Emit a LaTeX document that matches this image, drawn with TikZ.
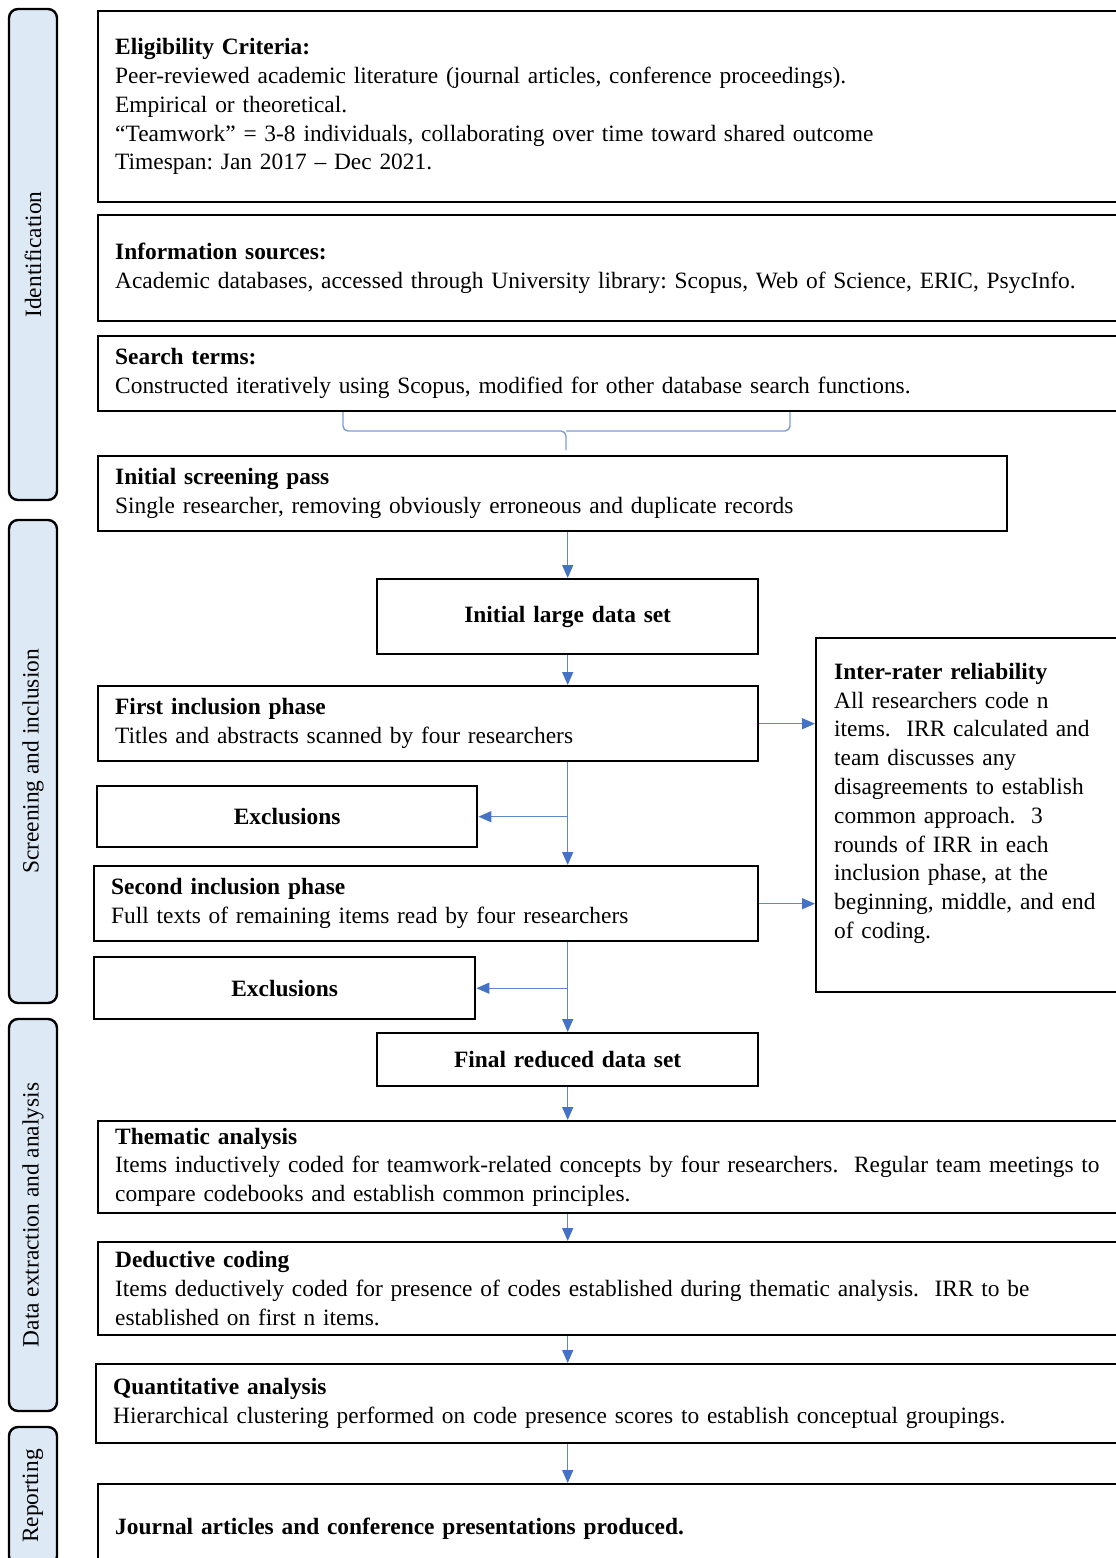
\documentclass[tikz,border=0pt]{standalone}
\usepackage{fontspec}
\setmainfont{Liberation Serif}
\frenchspacing
\usetikzlibrary{
	arrows.meta
}
\definecolor{flowblue}{RGB}{68,114,196}
\definecolor{phasefill}{RGB}{222,233,246}
\tikzset{
	box/.style={
		draw,
		line width=2.4pt,
		anchor=north west,
		inner xsep=17pt,
		align=left,
		font=\fontsize{23.4}{28.8}\selectfont
	},
	centrebox/.style={
		box,
		align=center,
		font=\fontsize{23.4}{28.8}\selectfont\bfseries
	},
	phase/.style={
		draw,
		line width=2.4pt,
		fill=phasefill,
		rounded corners=9pt,
		rotate=90,
		minimum height=48pt,
		font=\fontsize{23.4}{28.8}\selectfont
	},
	flow/.style={
		flowblue!85,
		line width=1.4pt,
		-{Triangle[length=13pt,width=11pt,flowblue]}
	},
	search brace/.style={
		flowblue!70,
		line width=1.4pt,
		rounded corners=5pt
	}
}

\begin{document}
\begin{tikzpicture}[x=1pt, y=-1pt]
	\useasboundingbox (0,0) rectangle (1116,1558);
	%%%%%%%% phases
	\node[phase, minimum width=491pt] (ident) at (33,254.5) {Identification};
	\node[phase, minimum width=483pt] (screening) at (33,761.5) {Screening and inclusion};
	\node[phase, minimum width=392pt] (extraction) at (33,1215) {Data extraction and analysis};
	\node[phase, minimum width=138pt] (reporting) at (33,1496) {Reporting};
	%%%%%%%% identification
	\node[box, text width=999pt, minimum height=191pt] (elig) at (97,10) {\textbf{Eligibility Criteria:}\\
		Peer-reviewed academic literature (journal articles, conference proceedings).\\
		Empirical or theoretical.\\
		“Teamwork” = 3-8 individuals, collaborating over time toward shared outcome\\
		Timespan: Jan 2017 – Dec 2021.};
	\node[box, text width=999pt, minimum height=106pt] (sources) at (97,214) {\textbf{Information sources:}\\
		Academic databases, accessed through University library: Scopus, Web of Science, ERIC, PsycInfo.};
	\node[box, text width=999pt, minimum height=75pt] (terms) at (97,335) {\textbf{Search terms:}\\
		Constructed iteratively using Scopus, modified for other database search functions.};
	\coordinate (bracetip) at (566,450);
	\draw[search brace] (343,412) |- (bracetip |- 0,431) -- (bracetip);
	\draw[search brace] (790,412) |- (bracetip |- 0,431);
	%%%%%%%% screening
	\node[box, text width=875pt, minimum height=75pt] (screen) at (97,455) {\textbf{Initial screening pass}\\
		Single researcher, removing obviously erroneous and duplicate records};
	\node[centrebox, text width=347pt, minimum height=75pt] (large) at (376,578) {Initial large data set};
	\node[box, text width=626pt, minimum height=75pt] (first) at (97,685) {\textbf{First inclusion phase}\\
		Titles and abstracts scanned by four researchers};
	\node[box, inner xsep=18pt, text width=279pt, minimum height=354pt] (irr) at (815,637) {\textbf{Inter-rater reliability}\\
		All researchers code n\\
		items.\ \ IRR calculated and\\
		team discusses any\\
		disagreements to establish\\
		common approach.\ \ 3\\
		rounds of IRR in each\\
		inclusion phase, at the\\
		beginning, middle, and end\\
		of coding.\\
		\mbox{}};
	\node[centrebox, text width=346pt, minimum height=61pt] (exclfirst) at (96,785) {Exclusions};
	\node[box, text width=630pt, minimum height=75pt] (second) at (93,865) {\textbf{Second inclusion phase}\\
		Full texts of remaining items read by four researchers};
	\node[centrebox, text width=347pt, minimum height=62pt] (exclsecond) at (93,956) {Exclusions};
	\node[centrebox, text width=347pt, minimum height=53pt] (final) at (376,1032) {Final reduced data set};
	%%%%%%%% analysis
	\node[box, text width=999pt, minimum height=92pt] (thematic) at (97,1120) {\textbf{Thematic analysis}\\
		Items inductively coded for teamwork-related concepts by four researchers.\ \ Regular team meetings to\\
		compare codebooks and establish common principles.};
	\node[box, text width=999pt, minimum height=93pt] (deductive) at (97,1241) {\textbf{Deductive coding}\\
		Items deductively coded for presence of codes established during thematic analysis.\ \ IRR to be\\
		established on first n items.};
	\node[box, text width=1001pt, minimum height=79pt] (quant) at (95,1363) {\textbf{Quantitative analysis}\\
		Hierarchical clustering performed on code presence scores to establish conceptual groupings.};
	\node[box, text width=999pt, minimum height=90pt] (journal) at (97,1483) {\textbf{Journal articles and conference presentations produced.}};
	%%%%%%%% connectors
	\draw[flow] (large.north |- screen.south) -- (large.north);
	\draw[flow] (large.south) -- (large.south |- first.north);
	\draw[flow] (first.east) -- (first.east -| irr.west);
	\draw[flow] (large.south |- first.south) -- (large.south |- second.north);
	\draw[flow] (large.south |- exclfirst.east) -- (exclfirst.east);
	\draw[flow] (second.east) -- (second.east -| irr.west);
	\draw[flow] (final.north |- second.south) -- (final.north);
	\draw[flow] (final.north |- exclsecond.east) -- (exclsecond.east);
	\draw[flow] (final.south) -- (final.south |- thematic.north);
	\draw[flow] (final.south |- thematic.south) -- (final.south |- deductive.north);
	\draw[flow] (final.south |- deductive.south) -- (final.south |- quant.north);
	\draw[flow] (final.south |- quant.south) -- (final.south |- journal.north);
\end{tikzpicture}
\end{document}
